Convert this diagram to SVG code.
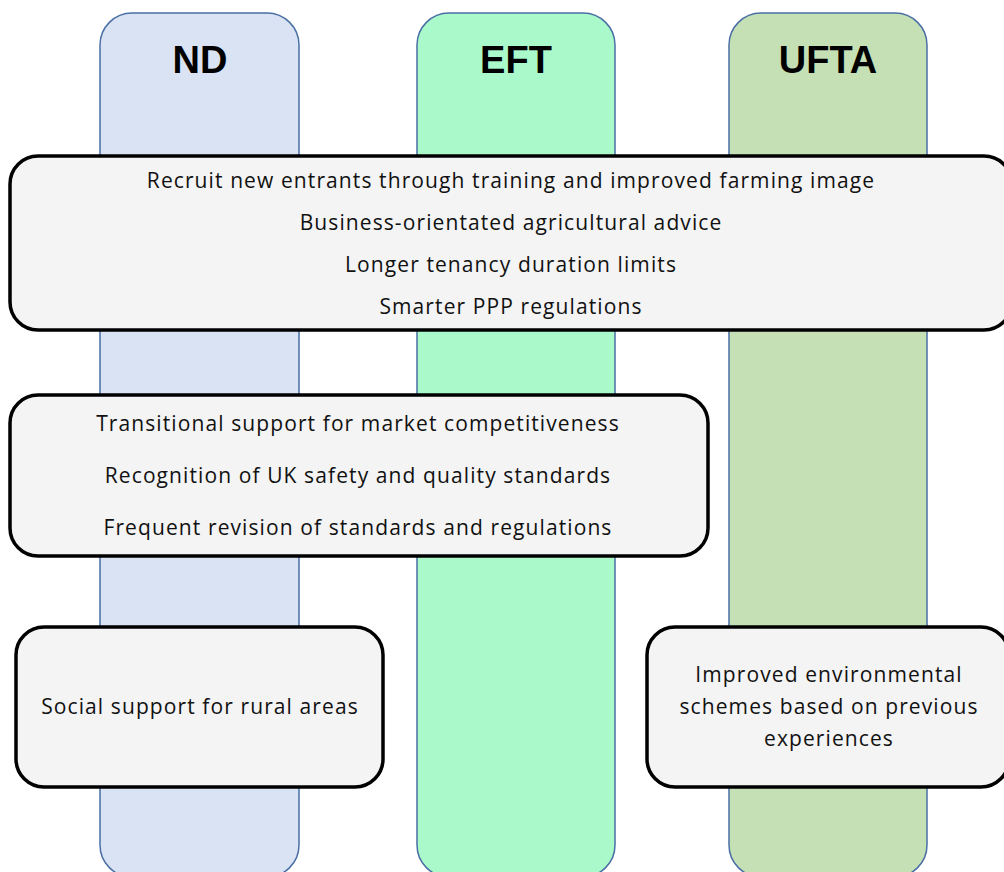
<svg xmlns="http://www.w3.org/2000/svg" width="1004" height="872" viewBox="0 0 1004 872">
<style>
.col{stroke:#4a6fa5;stroke-width:1.5}
.box{fill:#f4f4f4;stroke:#000;stroke-width:3.5}
.hd{font-family:"Liberation Sans",Arial,sans-serif;font-weight:bold;font-size:38px;fill:#000;text-anchor:middle}
.t{font-family:"Open Sans","Liberation Sans",sans-serif;font-size:21px;letter-spacing:1.1px;fill:#111;text-anchor:middle}
</style>
<rect width="1004" height="872" fill="#fff"/>
<g id="col-nd"><rect class="col" x="100" y="13" width="199" height="864" rx="32" fill="#dae3f3"/><text class="hd" x="200" y="73">ND</text></g>
<g id="col-eft"><rect class="col" x="417" y="13" width="198" height="864" rx="32" fill="#aaf9cb"/><text class="hd" x="516" y="73">EFT</text></g>
<g id="col-ufta"><rect class="col" x="729" y="13" width="198" height="864" rx="32" fill="#c5e0b4"/><text class="hd" x="828" y="73">UFTA</text></g>
<g id="box-all"><rect class="box" x="10" y="156" width="1002" height="174" rx="28"/>
<text class="t" x="511" y="188">Recruit new entrants through training and improved farming image</text>
<text class="t" x="511" y="230">Business-orientated  agricultural advice</text>
<text class="t" x="511" y="272">Longer tenancy duration limits</text>
<text class="t" x="511" y="314">Smarter PPP regulations</text></g>
<g id="box-nd-eft"><rect class="box" x="10" y="395" width="698" height="161" rx="28"/>
<text class="t" x="358" y="431">Transitional support for market competitiveness</text>
<text class="t" x="358" y="483">Recognition of UK safety and quality standards</text>
<text class="t" x="358" y="535">Frequent revision of standards and regulations</text></g>
<g id="box-nd"><rect class="box" x="16" y="627" width="367" height="160" rx="28"/>
<text class="t" x="200" y="714">Social support for rural areas</text></g>
<g id="box-ufta"><rect class="box" x="647" y="627" width="362" height="160" rx="28"/>
<text class="t" x="829" y="682">Improved environmental</text>
<text class="t" x="829" y="714">schemes based on previous</text>
<text class="t" x="829" y="746">experiences</text></g>
<g id="connectors"/>
</svg>
